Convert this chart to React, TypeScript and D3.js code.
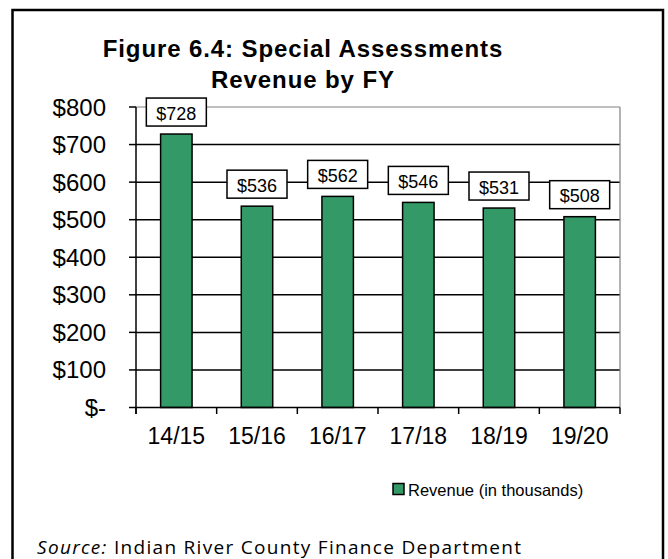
import React from 'react'
import * as d3 from 'd3'

const years = ['14/15', '15/16', '16/17', '17/18', '18/19', '19/20']
const revenue = [728, 536, 562, 546, 531, 508]
const yTicks = [0, 100, 200, 300, 400, 500, 600, 700, 800]

const W = 668
const H = 559
const plot = { left: 136, right: 620, top: 107, bottom: 407.5 }
const GREEN = '#339966'
const FONT = '"Liberation Sans", Arial, sans-serif'

const fmtMoney = (v: number) => (v === 0 ? '$-' : `$${v}`)

export default function App() {
  const x = d3
    .scaleBand<string>()
    .domain(years)
    .range([plot.left, plot.right])
    .paddingInner(0.61)
    .paddingOuter(0.305)

  const y = d3.scaleLinear().domain([0, 800]).range([plot.bottom, plot.top])

  const band = (plot.right - plot.left) / years.length
  const boundaries = d3.range(years.length + 1).map((i) => plot.left + i * band)

  return (
    <svg
      width={W}
      height={H}
      style={{ position: 'absolute', left: 0, top: 0, background: '#fff' }}
      fontFamily={FONT}
    >
      {/* outer frame */}
      <rect x={12.5} y={10} width={650.5} height={580} fill="none" stroke="#000" strokeWidth={2.5} />

      {/* title */}
      <text x={303} y={57} textAnchor="middle" fontSize={24} fontWeight="bold" letterSpacing={0.9}>
        Figure 6.4: Special Assessments
      </text>
      <text x={303} y={88} textAnchor="middle" fontSize={24} fontWeight="bold" letterSpacing={0.9}>
        Revenue by FY
      </text>

      {/* gridlines */}
      {yTicks
        .filter((t) => t > 0 && t < 800)
        .map((t) => (
          <line key={t} x1={plot.left} x2={plot.right} y1={y(t)} y2={y(t)} stroke="#000" strokeWidth={1.5} />
        ))}
      {/* plot area border top/right */}
      <line x1={plot.left} x2={plot.right} y1={y(800)} y2={y(800)} stroke="#808080" strokeWidth={1.2} />
      <line x1={plot.right} x2={plot.right} y1={y(800)} y2={plot.bottom} stroke="#808080" strokeWidth={1.2} />

      {/* bars */}
      {revenue.map((v, i) => (
        <rect
          key={years[i]}
          x={x(years[i])}
          y={y(v)}
          width={x.bandwidth()}
          height={plot.bottom - y(v)}
          fill={GREEN}
          stroke="#000"
          strokeWidth={1.5}
        />
      ))}

      {/* y axis */}
      <line x1={plot.left} x2={plot.left} y1={plot.top} y2={plot.bottom + 6.5} stroke="#000" strokeWidth={1.5} />
      {yTicks.map((t) => (
        <g key={t}>
          <line x1={plot.left - 7} x2={plot.left} y1={y(t)} y2={y(t)} stroke="#000" strokeWidth={1.5} />
          <text x={106} y={y(t) + 8.5} textAnchor="end" fontSize={24}>
            {fmtMoney(t)}
          </text>
        </g>
      ))}

      {/* x axis */}
      <line x1={plot.left} x2={plot.right} y1={plot.bottom} y2={plot.bottom} stroke="#000" strokeWidth={1.5} />
      {boundaries.map((b, i) => (
        <line key={i} x1={b} x2={b} y1={plot.bottom} y2={plot.bottom + 6.5} stroke="#000" strokeWidth={1.5} />
      ))}
      {years.map((yr) => (
        <text key={yr} x={(x(yr) as number) + x.bandwidth() / 2} y={444} textAnchor="middle" fontSize={23}>
          {yr}
        </text>
      ))}

      {/* value labels */}
      {revenue.map((v, i) => {
        const cx = (x(years[i]) as number) + x.bandwidth() / 2
        const bottom = y(v) - 8
        return (
          <g key={`lbl-${i}`}>
            <rect x={cx - 30} y={bottom - 28} width={60} height={28} fill="#fff" stroke="#000" strokeWidth={1.5} />
            <text x={cx} y={bottom - 6.5} textAnchor="middle" fontSize={18}>
              {fmtMoney(v)}
            </text>
          </g>
        )
      })}

      {/* legend */}
      <rect x={393} y={483.5} width={11} height={11} fill={GREEN} stroke="#000" strokeWidth={1.5} />
      <text x={408} y={496} fontSize={16.5}>
        Revenue (in thousands)
      </text>

      {/* source */}
      <text x={37} y={554} fontSize={19} fontFamily='"Open Sans", sans-serif' textLength={484} lengthAdjust="spacing">
        <tspan fontStyle="italic">Source:</tspan> Indian River County Finance Department
      </text>
    </svg>
  )
}
